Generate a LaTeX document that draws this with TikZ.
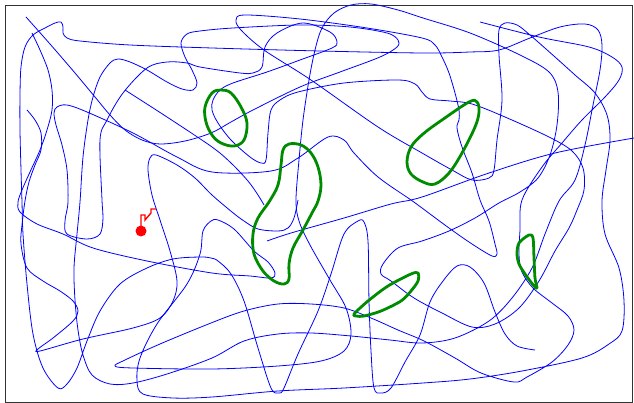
\documentclass[tikz,border=0pt]{standalone}
\begin{document}
\begin{tikzpicture}[x=1pt,y=-1pt,
  chain/.style={draw=blue,line width=0.8pt,line join=round},
  ring/.style={draw=green!55!black,line width=2.8pt,line join=round},
  probe/.style={draw=red,line width=1.4pt},
  frame/.style={draw=black!80,line width=1pt}]
\useasboundingbox (0,0) rectangle (634,403);
\draw[frame] (5,6) rectangle (632,402);
% long chains
\draw[chain] plot[smooth,tension=0.55] coordinates {
 (480,22) (539,37) (589,47) (612,57) (622,67) (619,80) (605,97) (582,120) (562,143) (542,167)
 (522,200) (520,230) (519,255) (522,272) (533,288) (552,303) (568,316) (574,330) (568,345) (552,362)
 (527,377) (514,382) (481,373) (455,358) (424,341) (398,330) (371,318) (344,308) (311,304) (278,304)
 (244,311) (211,323) (160,344) (125,360) (115,366) (133,368) (212,369) (278,366) (321,361) (344,351)
 (351,334) (346,308) (330,280) (310,245) (299,221) (296,200) (299,160) (303,120) (309,80) (315,50)
 (322,28) (334,13) (351,5) (371,4) (398,10) (423,18) (470,33) (520,55) (549,72) (558,92)
 (557,125) (550,155) (538,178) (520,192) (499,203) (475,218) (449,231) (422,241) (398,248) (383,264)
 (381,274) (391,281) (414,298) (442,313) (472,327) (495,324) (519,308) (539,281) (555,251) (569,228)
 (577,210) (584,190) (583,168) (572,151) (549,137) (505,117) (472,104) (450,101) (430,99) (422,92)
 (415,84) (398,80) (344,83) (298,92) (280,100) (271,110) (268,133) (266,160) (261,163) (250,157) (231,140)
 (218,123) (212,110) (213,100) (220,90) (233,83) (267,72) (300,60) (332,48) (337,42) (330,32)
 (303,23) (277,33) (265,47) (262,67) (253,73) (240,73) (200,67) (187,63) (167,62) (147,68)
 (123,93) (107,120) (100,140) (102,200) (103,218) (100,234) (87,239) (67,234) (65,221) (68,202)
 (67,170) (62,145) (56,125) (54,113) (57,107) (67,105) (87,112) (133,133) (177,157) (212,172)
 (271,171) (298,158) (328,137) (344,140) (354,153) (378,177) (411,200) (422,208) (449,228) (472,244)
 (492,256) (497,254) (495,244) (489,221) (480,200) (472,173) (462,147) (457,128) (459,120) (459,110)
 (455,93) (449,73) (442,57) (435,45) (422,38) (367,28) (300,19) (245,15) (236,20) (241,30)
 (264,50) (311,80) (378,127) (422,153) (452,170) (472,180) (489,178) (494,170) (497,140) (502,100)
 (499,55) (499,30) (505,23) (517,25) (530,35) (555,57) (575,75) (595,93) (607,115) (610,140)
 (606,170) (602,201) (605,234) (619,268) (624,301) (622,331) (609,344) (582,358) (522,371) (470,379)
 (423,383) (344,388) (278,391) (212,397) (173,398) (143,394) (137,381) (140,358) (157,324) (187,284)
 (200,254) (203,231) (211,221) (218,220) (234,229) (254,251) (268,262) (275,273) (271,278) (250,276)
 (212,273) (147,261) (93,248) (63,234) (37,224) (20,212) (18,202) (22,190) (30,172) (40,150)
 (47,130) (52,110) (52,90) (48,70) (40,50) (32,33)};
\draw[chain] plot[smooth,tension=0.55] coordinates {
 (26,17) (50,44) (75,73) (95,97) (110,115) (125,130) (142,140) (160,144) (185,141) (211,133)
 (231,122) (253,110) (300,87) (340,72) (380,57) (397,47) (398,40) (387,33) (350,27) (300,25)
 (233,28) (200,31) (187,34) (181,43) (185,57) (192,70) (197,83) (193,90) (182,89) (167,82)
 (147,70) (130,62) (118,59) (110,63) (100,77) (93,97) (88,120) (83,157) (80,202) (77,234)
 (74,268) (75,300) (78,330) (83,355) (92,375) (110,384) (133,383) (167,374) (212,358) (244,341)
 (278,334) (311,333) (351,336) (390,340) (422,343) (455,338) (489,321) (512,298) (532,268) (545,234)
 (559,201) (575,180) (585,145) (593,105) (600,70) (602,45) (598,30) (585,24) (560,27) (530,38)
 (499,50) (470,52) (423,53) (320,51) (212,48) (130,45) (80,41) (67,38) (63,33) (63,27)
 (61,22) (55,23) (45,28) (33,35) (25,47) (21,67) (20,95) (20,130) (21,170) (22,202)
 (23,234) (27,284) (33,334) (43,368) (58,388) (67,384) (77,368) (87,341) (100,311) (120,284)
 (147,268) (173,259) (200,257) (211,258) (218,261) (231,274) (244,301) (258,348) (271,388) (279,393)
 (284,388) (298,354) (318,311) (331,274) (344,234) (358,221) (364,222) (368,241) (369,301) (371,351)
 (374,388) (381,393) (391,388) (405,362) (420,335) (430,302) (443,281) (457,266) (470,267) (484,283)
 (495,312) (505,334) (517,346) (535,350)};
\draw[chain] plot[smooth,tension=0.55] coordinates {
 (27,110) (35,120) (41,133) (41,150) (35,165) (29,182) (25,201) (22,225) (21,244) (27,268)
 (43,281) (60,291) (73,301) (78,311) (73,321) (53,338) (38,349) (40,351) (83,339) (133,328)
 (160,318) (173,301) (177,281) (170,251) (160,220) (152,195) (148,170) (150,158) (156,155) (177,165)
 (195,178) (212,195) (232,212) (244,221) (258,229) (278,231) (288,228) (294,218) (298,200)};
\draw[chain] plot[smooth,tension=0.55] coordinates {
 (125,90) (167,117) (212,147) (231,163) (248,181) (258,195) (264,205)};
\draw[chain] plot[smooth,tension=0.55] coordinates {
 (267,241) (291,233) (344,218) (391,204) (422,197) (489,173) (555,153) (634,138)};
% closed loops
\draw[ring] plot[smooth cycle,tension=0.6] coordinates {
 (205,107) (212,93) (221,90) (231,93) (241,107) (247,123) (244,140) (234,146) (221,143) (212,135) (206,122)};
\draw[ring] plot[smooth cycle,tension=0.6] coordinates {
 (289,144) (301,145) (311,153) (318,167) (321,185) (318,201) (312,213) (303,230) (293,248) (289,264)
 (289,279) (284,284) (274,281) (263,271) (254,254) (253,234) (258,218) (269,202) (278,185) (281,165) (283,150)};
\draw[ring] plot[smooth cycle,tension=0.6] coordinates {
 (411,147) (423,134) (442,120) (469,102) (477,102) (479,112) (475,127) (462,153) (449,173) (435,184)
 (423,182) (411,174) (407,162)};
\draw[ring] plot[smooth cycle,tension=0.5] coordinates {
 (354,314) (368,301) (388,286) (411,274) (418,273) (418,281) (411,291) (401,301) (381,311) (364,316) (356,316)};
\draw[ring] plot[smooth cycle,tension=0.5] coordinates {
 (517,254) (519,243) (529,235) (533,238) (534,258) (535,278) (537,288) (534,286) (525,274) (519,264)};
% red probe
\fill[red] (141,231) circle (5.5pt);
\draw[probe] (141,231) -- (141,215) -- (145,215) -- (145,220) -- (151,213) -- (151,209) -- (156,209);
\end{tikzpicture}
\end{document}
